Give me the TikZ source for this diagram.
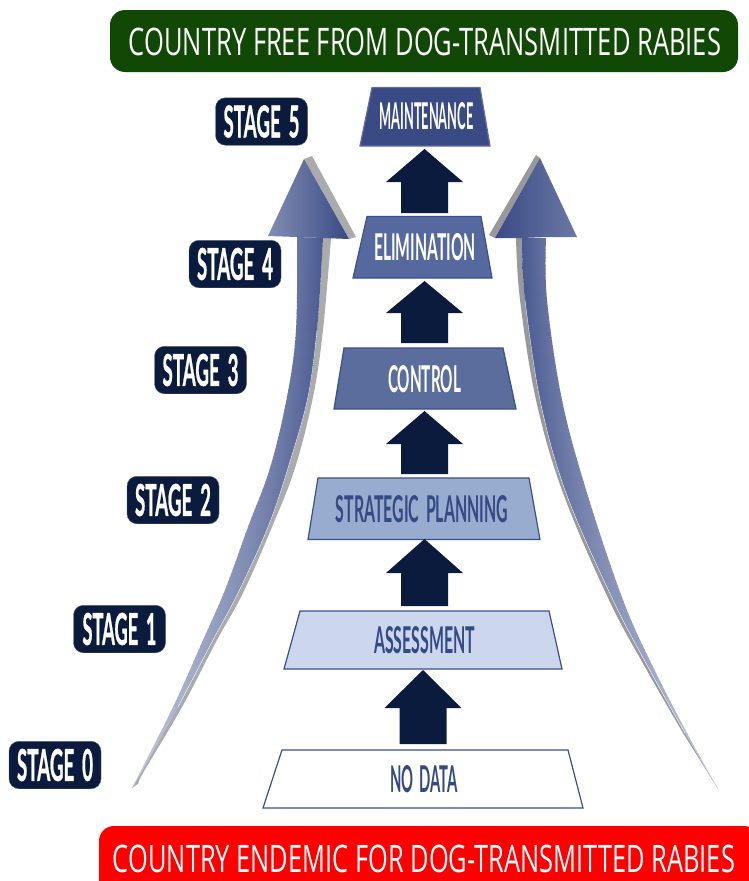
\documentclass[tikz,border=0pt]{standalone}
\usepackage{fontspec}
\usepackage{graphicx}
\setmainfont{Open Sans}
\newfontfamily\stagefont[BoldFeatures={FakeBold=1.2}]{Lato}
\newfontfamily\traplabelfont{Lato}
\definecolor{navy}{HTML}{0A1B3D}
\definecolor{bannergreen}{HTML}{124805}
\definecolor{trapline}{HTML}{3B4F8A}
\definecolor{traptext}{HTML}{344A85}
\definecolor{tMaint}{HTML}{3A4A85}
\definecolor{tElim}{HTML}{56699F}
\definecolor{tCtrl}{HTML}{5A6D9C}
\definecolor{tStrat}{HTML}{97ACCE}
\definecolor{tAssess}{HTML}{CCD7EE}
\definecolor{grayL}{HTML}{AAABAD}
\definecolor{grayR}{HTML}{98999B}
\definecolor{aTop}{HTML}{6B79A5}
\definecolor{aTail}{HTML}{D0D4E2}
\definecolor{bTop}{HTML}{44558E}
\definecolor{bTail}{HTML}{BCC3D8}
\newcommand{\fitbox}[3]{\resizebox{#1pt}{#2pt}{\spaceskip=.42em\relax #3}}
\tikzset{
  stagebox/.style={fill=navy,draw=navy!70!white,line width=.4pt,rounded corners=10pt,minimum width=92pt,minimum height=47.5pt,inner sep=0pt,text=white,font=\stagefont\bfseries},
  trapbox/.style={draw=trapline,line width=1.2pt,line join=miter},
  traplabel/.style={inner sep=0pt,font=\traplabelfont\bfseries},
  blockarrow/.style={fill=navy,draw=none},
  bannerbox/.style={rounded corners=15pt,inner sep=0pt},
  bannertext/.style={inner sep=0pt,text=white}
}
\begin{document}
\begin{tikzpicture}[x=1pt,y=-1pt]
\useasboundingbox (0,0) rectangle (748,881);

% banners
\node[bannerbox,fill=bannergreen,minimum width=628pt,minimum height=62pt] (free) at (424,41) {};
\node[bannertext] (freetext) at (425,41.5) {\resizebox{592pt}{27.5pt}{COUNTRY FREE FROM DOG-TRANSMITTED RABIES}};
\node[bannerbox,fill=red,minimum width=660pt,minimum height=70pt] (endemic) at (429,861) {};
\node[bannertext] (endemictext) at (424,858.5) {\resizebox{622pt}{27.5pt}{COUNTRY ENDEMIC FOR DOG-TRANSMITTED RABIES}};

% stage labels
\node[stagebox] (s5) at (261.5,121.5) {\fitbox{76}{32}{STAGE 5}};
\node[stagebox] (s4) at (235,264) {\fitbox{76}{32}{STAGE 4}};
\node[stagebox] (s3) at (200.5,370) {\fitbox{76}{32}{STAGE 3}};
\node[stagebox] (s2) at (173,500) {\fitbox{76}{32}{STAGE 2}};
\node[stagebox] (s1) at (119.5,629) {\fitbox{74}{32}{STAGE 1}};
\node[stagebox] (s0) at (55,765) {\fitbox{76}{32}{STAGE 0}};

% left curved arrow
\fill[grayL] (304,159) -- (312,156) -- (356,237) -- (349,239) -- cycle;
\fill[grayL] (323,238) -- (331,238) -- plot[smooth,tension=.6] coordinates {(331,238) (323,330) (313,397) (295,468) (272,527) (243,593) (217,640) (182,707) (143,773) (139,783)} -- (132,788) -- plot[smooth,tension=.6] coordinates {(132,788) (178,707) (213,640) (238,593) (268,527) (288,468) (308,397) (317,330) (323,238)} -- cycle;
\begin{scope}
\clip (297,237) -- (323,238) -- plot[smooth,tension=.6] coordinates {(323,238) (317,330) (308,397) (288,468) (268,527) (238,593) (213,640) (178,707) (141,773) (132,788)} -- plot[smooth,tension=.6] coordinates {(132,788) (173,707) (203,640) (225,590) (248,527) (270,468) (287,397) (296,330) (297,237)} -- cycle;
\foreach \yy in {237,241,...,789}{
  \pgfmathsetmacro\tv{(\yy-237)/552}
  \pgfmathsetmacro\xl{297-165*\tv*\tv}
  \pgfmathsetmacro\wv{max(3,26*(1-\tv*\tv))}
  \pgfmathsetmacro\mg{3+16*\tv}
  \pgfmathtruncatemacro\pc{100*(1-\tv*\tv)}
  \colorlet{cA}{aTop!\pc!aTail}
  \colorlet{cB}{bTop!\pc!bTail}
  \shade[left color=cA,right color=cB] (\xl-\mg,\yy) rectangle (\xl+\wv+\mg,\yy+4.6);
}
\end{scope}
\draw[white,line width=.35pt] plot[smooth,tension=.6] coordinates {(317,330) (308,397) (288,468) (268,527) (238,593) (213,640) (178,707)};
\shade[left color=aTop!85!white,right color=tMaint] (304,159) -- (349,239) -- (323,238) -- (297,237) -- (268,236) -- cycle;

% right curved arrow
\fill[grayR] (540,158) -- (536,155) -- (489,235) -- (495,238) -- cycle;
\fill[grayR] (522,238) -- (516,238) -- plot[smooth,tension=.6] coordinates {(516,238) (520,300) (536,400) (563,493) (609,600) (645,667) (683,733)} -- (718,789) -- plot[smooth,tension=.6] coordinates {(718,789) (685,733) (648,667) (613,600) (566,493) (540,400) (525,300) (522,238)} -- cycle;
\begin{scope}
\clip (522,238) -- (546,238) -- plot[smooth,tension=.6] coordinates {(546,238) (547,300) (562,400) (587,493) (623,600) (653,667) (687,733) (718,789)} -- plot[smooth,tension=.6] coordinates {(718,789) (685,733) (648,667) (613,600) (566,493) (540,400) (525,300) (522,238)} -- cycle;
\foreach \yy in {237,241,...,789}{
  \pgfmathsetmacro\tv{(\yy-238)/551}
  \pgfmathsetmacro\xl{522+196*\tv*\tv}
  \pgfmathsetmacro\wv{max(3,26*(1-\tv*\tv))}
  \pgfmathsetmacro\mg{3+16*\tv}
  \pgfmathtruncatemacro\pc{100*(1-\tv*\tv)}
  \colorlet{cA}{bTop!\pc!bTail}
  \colorlet{cB}{aTop!\pc!aTail}
  \shade[left color=cA,right color=cB] (\xl-\mg,\yy) rectangle (\xl+\wv+\mg,\yy+4.6);
}
\end{scope}
\draw[white,line width=.35pt] plot[smooth,tension=.6] coordinates {(525,300) (540,400) (566,493) (613,600) (648,667) (685,733)};
\shade[left color=tMaint,right color=aTop] (540,158) -- (577,237) -- (547,237) -- (522,238) -- (495,238) -- cycle;

% stage trapezoids
\draw[trapbox,fill=tMaint,draw=tMaint!80!white] (372,87.5) -- (480,87.5) -- (490,146) -- (360,146) -- cycle;
\node[traplabel,text=white] (maint) at (426.5,116.5) {\fitbox{94}{27}{MAINTENANCE}};
\draw[trapbox,fill=tElim] (367,216.5) -- (481,216.5) -- (492,278) -- (353,278) -- cycle;
\node[traplabel,text=white] (elim) at (425,247.5) {\fitbox{102}{27}{ELIMINATION}};
\draw[trapbox,fill=tCtrl] (344,348) -- (503,348) -- (516,409) -- (334,409) -- cycle;
\node[traplabel,text=white] (ctrl) at (424.5,379) {\fitbox{73}{27}{CONTROL}};
\draw[trapbox,fill=tStrat] (318,478) -- (529,478) -- (540,539.5) -- (308,539.5) -- cycle;
\node[traplabel,text=traptext] (strat) at (422,509) {\fitbox{172}{27}{STRATEGIC PLANNING}};
\draw[trapbox,fill=tAssess] (300,611) -- (549,611) -- (562,669) -- (284,669) -- cycle;
\node[traplabel,text=traptext] (assess) at (424.5,640.5) {\fitbox{101}{27}{ASSESSMENT}};
\draw[trapbox,fill=white] (282,750) -- (568,750) -- (583,808) -- (263,808) -- cycle;
\node[traplabel,text=traptext] (nodata) at (424,779.5) {\fitbox{68}{27}{NO DATA}};

% block arrows between stages
\foreach \ax/\ay/\wy/\by in {424.5/149/182/213,424.5/281/313/343,424.5/411/444/474,424.5/539/573/606,423/670/708/744}{
  \fill[blockarrow] (\ax,\ay) -- (\ax+38.5,\wy) -- (\ax+23.5,\wy) -- (\ax+23.5,\by) -- (\ax-23.5,\by) -- (\ax-23.5,\wy) -- (\ax-38.5,\wy) -- cycle;
}
\end{tikzpicture}
\end{document}
